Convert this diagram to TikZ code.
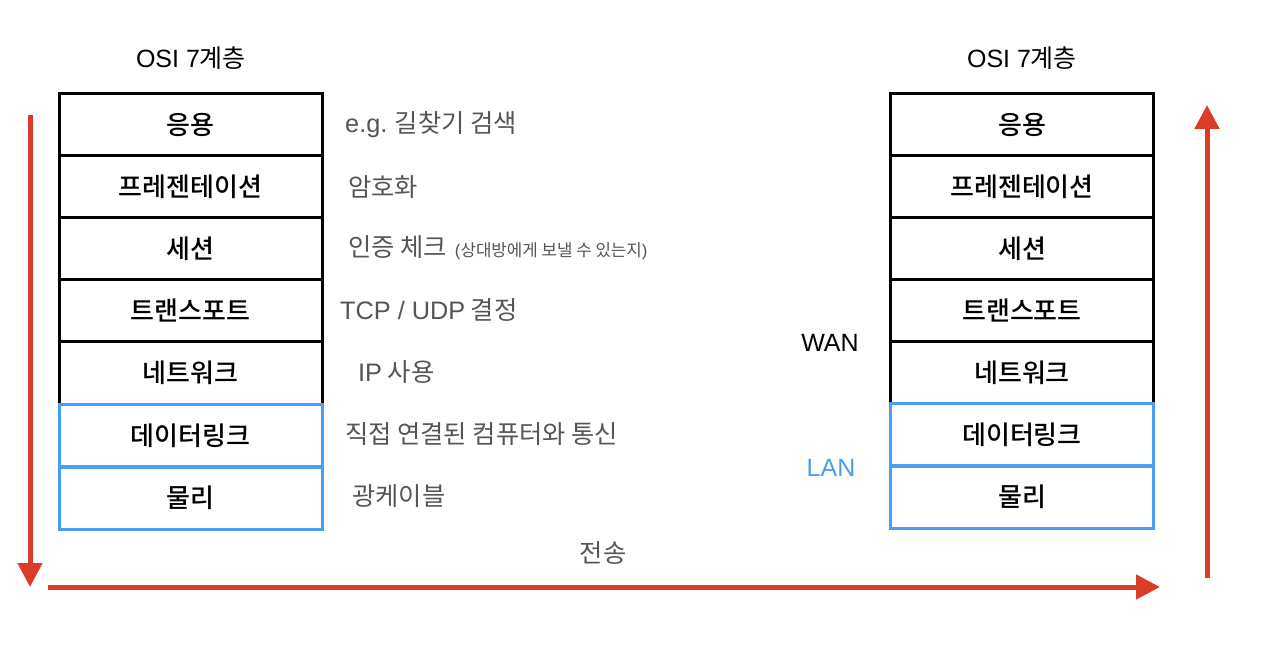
\documentclass[tikz,border=0pt]{standalone}
\usepackage{fontspec}
\setmainfont{Noto Sans CJK KR}
\newfontfamily\krmed{Noto Sans CJK KR Medium}
\newfontfamily\latf{Liberation Sans}
\newcommand{\lat}[1]{{\latf #1}}
\usetikzlibrary{arrows.meta}
\definecolor{arrred}{HTML}{D93C28}
\definecolor{lanblue}{HTML}{4A9DF0}
\definecolor{desc}{HTML}{555555}
\tikzset{
  layer/.style={draw=black, line width=3pt, minimum width=263pt, minimum height=62pt, inner sep=0pt, font=\krmed\fontsize{26}{30}\selectfont},
  lanlayer/.style={layer, draw=lanblue},
  note/.style={anchor=west, inner sep=0pt, text=desc, font=\fontsize{25.3}{29}\selectfont},
  title/.style={inner sep=0pt, font=\fontsize{25}{29}\selectfont},
  flow/.style={draw=arrred, line width=5pt, -{Triangle[length=24pt,width=24pt]}}
}
\begin{document}
\begin{tikzpicture}[x=1pt,y=-1pt]
\useasboundingbox (0,0) rectangle (1280,660);
% titles
\node[title] (t1) at (191,58) {\lat{OSI 7}계층};
\node[title] (t2) at (1022,58) {\lat{OSI 7}계층};
% left stack
\node[layer] (a1) at (190.5,125) {응용};
\node[layer] (a2) at (190.5,187) {프레젠테이션};
\node[layer] (a3) at (190.5,249) {세션};
\node[layer] (a4) at (190.5,311) {트랜스포트};
\node[layer] (a5) at (190.5,373) {네트워크};
\node[lanlayer] (a6) at (190.5,435.5) {데이터링크};
\node[lanlayer] (a7) at (190.5,498) {물리};
% right stack
\node[layer] (b1) at (1022,124.5) {응용};
\node[layer] (b2) at (1022,186.5) {프레젠테이션};
\node[layer] (b3) at (1022,248.5) {세션};
\node[layer] (b4) at (1022,310.5) {트랜스포트};
\node[layer] (b5) at (1022,372.5) {네트워크};
\node[lanlayer] (b6) at (1022,434.5) {데이터링크};
\node[lanlayer] (b7) at (1022,497) {물리};
% descriptions
\node[note] (d1) at (345,125) {\lat{e.g.} 길찾기 검색};
\node[note] (d2) at (348,187) {암호화};
\node[note] (d3) at (348,248) {인증 체크\hspace{8pt}{\fontsize{16.8}{20}\selectfont\lat{(}상대방에게 보낼 수 있는지\lat{)}}};
\node[note] (d4) at (340,310) {\lat{TCP / UDP} 결정};
\node[note] (d5) at (358,372) {\lat{IP} 사용};
\node[note] (d6) at (345,434) {직접 연결된 컴퓨터와 통신};
\node[note] (d7) at (352,496) {광케이블};
% WAN / LAN
\node[title, font=\latf\fontsize{25}{28}\selectfont] (wan) at (830,343) {WAN};
\node[title, font=\latf\fontsize{25}{28}\selectfont, text=lanblue] (lan) at (831,468) {LAN};
\node[note, anchor=center] (send) at (603,553) {전송};
% arrows
\coordinate (p1) at (30,115);
\coordinate (p2) at (30,587);
\coordinate (p3) at (48,587);
\coordinate (p4) at (1160,587);
\coordinate (p5) at (1207,578);
\coordinate (p6) at (1207,105);
\draw[flow] (p1) -- (p2);
\draw[flow] (p3) -- (p4);
\draw[flow] (p5) -- (p6);
\end{tikzpicture}
\end{document}
